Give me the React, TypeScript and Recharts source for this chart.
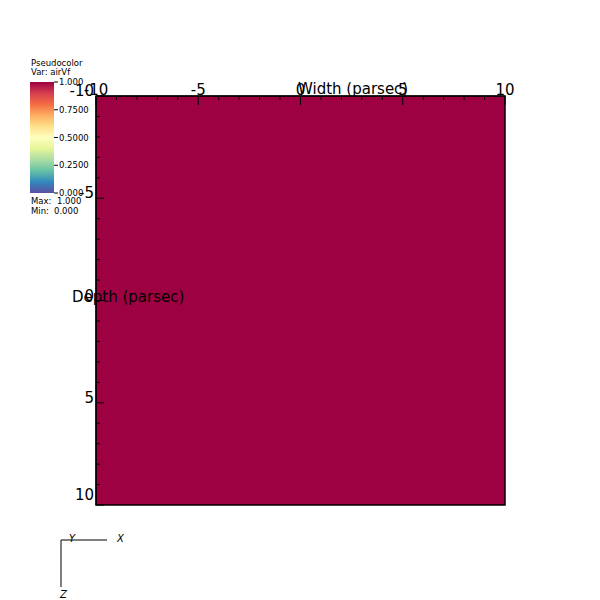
import { ComposedChart, ReferenceArea, XAxis, YAxis } from "recharts"

// grid edges (parsec) and the cell value of airVf
const xEdges = [-10, 10]
const yEdges = [-10, 10]
const airVf = [[1.0]]

const axisTicks = [-10, -9, -8, -7, -6, -5, -4, -3, -2, -1, 0, 1, 2, 3, 4, 5, 6, 7, 8, 9, 10]
const majorTicks = [-10, -5, 0, 5, 10]

const legendValues = [1.0, 0.75, 0.5, 0.25, 0.0]
const legendLabels = ["1.000", "0.7500", "0.5000", "0.2500", "0.000"]
const varMax = "1.000"
const varMin = "0.000"

const spectral = ["#5e4fa2", "#3288bd", "#66c2a5", "#abdda4", "#e6f598", "#ffffbf", "#fee08b", "#fdae61", "#f46d43", "#d53e4f", "#9e0142"]

function hex(c: string) {
  return [1, 3, 5].map((i) => parseInt(c.slice(i, i + 2), 16))
}

function colorFor(v: number) {
  const t = Math.max(0, Math.min(1, v)) * (spectral.length - 1)
  const i = Math.min(Math.floor(t), spectral.length - 2)
  const f = t - i
  const a = hex(spectral[i])
  const b = hex(spectral[i + 1])
  const c = a.map((ai, k) => Math.round(ai + (b[k] - ai) * f))
  return `rgb(${c[0]},${c[1]},${c[2]})`
}

const font = "'DejaVu Sans', sans-serif"

const cells = airVf.flatMap((row, j) =>
  row.map((v, i) => ({ x1: xEdges[i], x2: xEdges[i + 1], y1: yEdges[j], y2: yEdges[j + 1], v }))
)
const chartData = xEdges.map((x, i) => ({ x, y: yEdges[i] }))

function TopTick(props: any) {
  const { x, y, payload } = props
  const major = majorTicks.includes(payload.value)
  return (
    <g>
      <line x1={x} y1={y} x2={x} y2={y + (major ? 9 : 4)} stroke="#000" strokeWidth={1} />
      {major && (
        <text x={x} y={y - 1} textAnchor="middle" fontFamily={font} fontSize={15} fill="#000">
          {payload.value}
        </text>
      )}
    </g>
  )
}

function LeftTick(props: any) {
  const { x, y, payload } = props
  const major = majorTicks.includes(payload.value)
  return (
    <g>
      <line x1={x} y1={y} x2={x + (major ? 8 : 4)} y2={y} stroke="#000" strokeWidth={1} />
      {major && (
        <text x={x - 2} y={Math.min(y, 500)} textAnchor="end" fontFamily={font} fontSize={15} fill="#000">
          {payload.value}
        </text>
      )}
    </g>
  )
}

export default function App() {
  return (
    <div style={{ position: "absolute", left: 0, top: 0, width: 600, height: 600, background: "#fff" }}>
      <ComposedChart width={600} height={600} data={chartData} margin={{ top: 95, right: 95, bottom: 95, left: 95 }}>
        {cells.map((c, i) => (
          <ReferenceArea
            key={i}
            x1={c.x1}
            x2={c.x2}
            y1={c.y1}
            y2={c.y2}
            fill={colorFor(c.v)}
            fillOpacity={1}
            stroke="#000"
            strokeWidth={1.5}
            zIndex={0}
          />
        ))}
        <XAxis
          type="number"
          dataKey="x"
          orientation="top"
          domain={[-10, 10]}
          ticks={axisTicks}
          interval={0}
          height={1}
          tickSize={0}
          tickMargin={0}
          tick={(p: any) => <TopTick {...p} />}
          axisLine={{ stroke: "#000" }}
          allowDataOverflow
        />
        <YAxis
          type="number"
          dataKey="y"
          orientation="left"
          reversed
          domain={[-10, 10]}
          ticks={axisTicks}
          interval={0}
          width={1}
          tickSize={0}
          tickMargin={0}
          tick={(p: any) => <LeftTick {...p} />}
          axisLine={{ stroke: "#000" }}
          allowDataOverflow
        />
      </ComposedChart>
      <svg width={600} height={600} style={{ position: "absolute", left: 0, top: 0, pointerEvents: "none" }}>
        <defs>
          <linearGradient id="cbar" x1="0" y1="1" x2="0" y2="0">
            {spectral.map((c, i) => (
              <stop key={i} offset={i / (spectral.length - 1)} stopColor={c} />
            ))}
          </linearGradient>
        </defs>
        <text x={298} y={94} fontFamily={font} fontSize={15} fill="#000">Width (parsec)</text>
        <text x={72} y={302} fontFamily={font} fontSize={15} fill="#000">Depth (parsec)</text>

        <text x={31} y={66} fontFamily={font} fontSize={8.5} fill="#000">Pseudocolor</text>
        <text x={31} y={75} fontFamily={font} fontSize={8.5} fill="#000">Var: airVf</text>
        <rect x={30} y={82} width={24} height={111} fill="url(#cbar)" />
        {legendValues.map((v, i) => {
          const yy = 193 - v * 111
          return (
            <g key={i}>
              <line x1={54} y1={yy} x2={58} y2={yy} stroke="#000" />
              <text x={59} y={yy + 3} fontFamily={font} fontSize={8.5} fill="#000">{legendLabels[i]}</text>
            </g>
          )
        })}
        <text x={31} y={204} fontFamily={font} fontSize={8.5} fill="#000">Max:</text>
        <text x={57} y={204} fontFamily={font} fontSize={8.5} fill="#000">{varMax}</text>
        <text x={31} y={214} fontFamily={font} fontSize={8.5} fill="#000">Min:</text>
        <text x={54} y={214} fontFamily={font} fontSize={8.5} fill="#000">{varMin}</text>

        <line x1={61} y1={540} x2={107} y2={540} stroke="#000" />
        <line x1={61} y1={540} x2={61} y2={587} stroke="#000" />
        <text x={69} y={542} fontFamily={font} fontSize={10} fontStyle="italic" fill="#000">Y</text>
        <text x={117} y={542} fontFamily={font} fontSize={10} fontStyle="italic" fill="#000">X</text>
        <text x={60} y={598} fontFamily={font} fontSize={10} fontStyle="italic" fill="#000">Z</text>
      </svg>
    </div>
  )
}
